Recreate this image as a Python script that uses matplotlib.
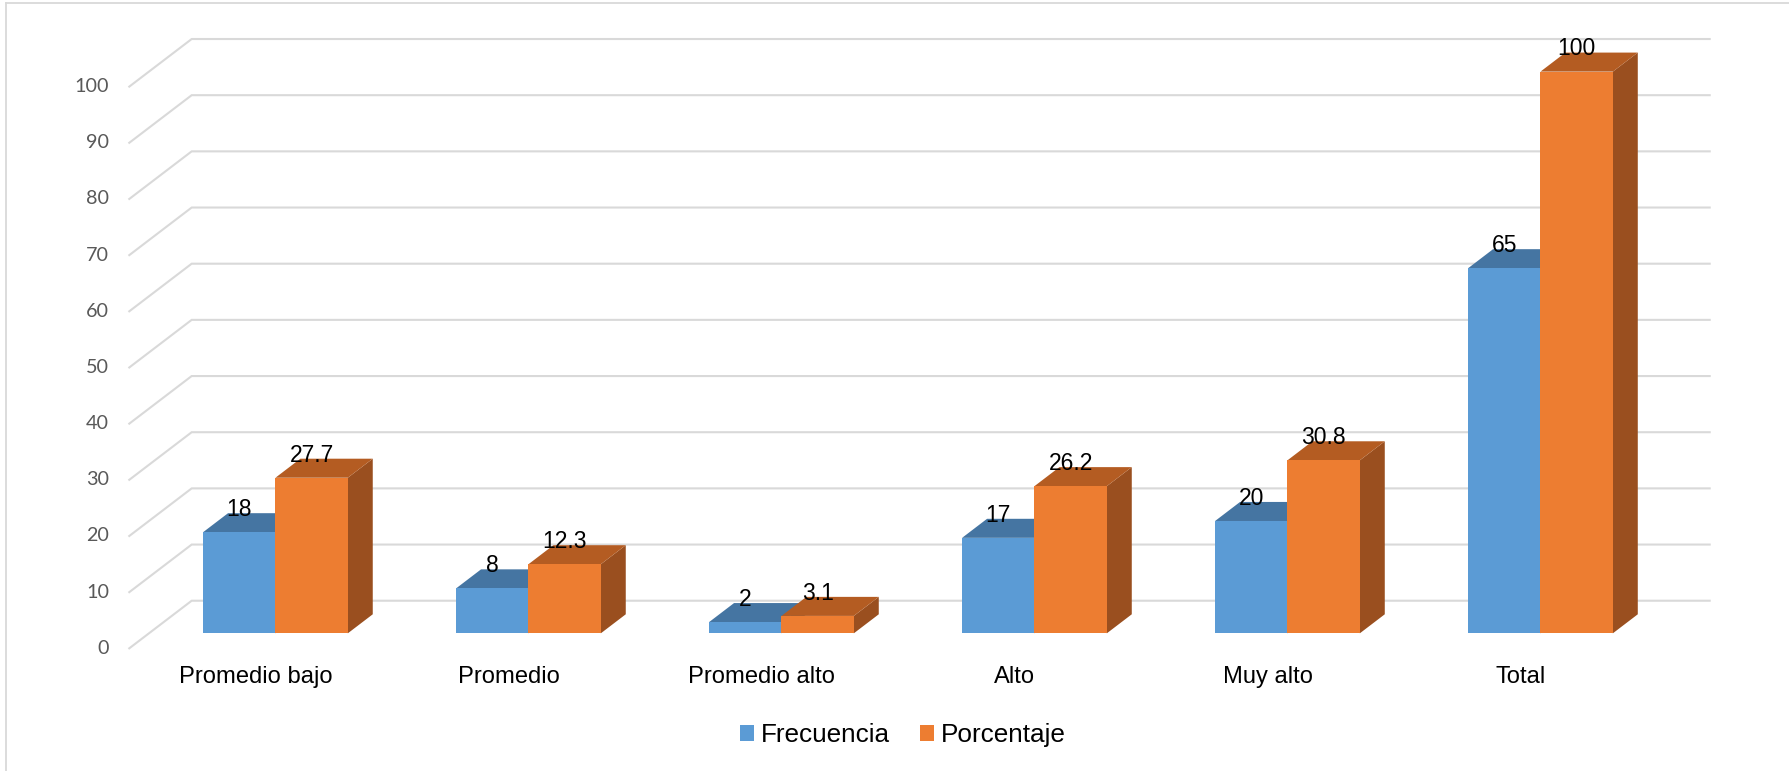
import matplotlib
matplotlib.use("Agg")
import matplotlib.pyplot as plt
from matplotlib.patches import Polygon, Patch
from matplotlib.lines import Line2D

# ---- data ----
categories = ["Promedio bajo", "Promedio", "Promedio alto", "Alto", "Muy alto", "Total"]
frecuencia = [18, 8, 2, 17, 20, 65]
porcentaje = [27.7, 12.3, 3.1, 26.2, 30.8, 100]
series_names = ["Frecuencia", "Porcentaje"]
tick_values = list(range(0, 101, 10))
tick_labels = [str(t) for t in tick_values]

# ---- style / geometry ----
W, H, DPI = 1789, 771, 100
front_col = ["#5B9BD5", "#ED7D31"]
top_col = ["#4575A2", "#B45C22"]
side_col = ["#3E6A94", "#9A4F1F"]
grid_col = "#D9D9D9"

# depth projection in data units for full floor depth
DX, DY = 0.2466, 8.474
bar_front_d = 0.315   # depth of bar front face (fraction of floor)
bar_depth = 0.40      # bar depth (fraction of floor)
bar_w = 0.286

fig = plt.figure(figsize=(W / DPI, H / DPI), dpi=DPI)
ax = fig.add_axes([0, 0, 1, 1])
ax.set_xlim(-1.011, 6.060)
ax.set_ylim(-21.84, 115.42)
ax.axis("off")

# border (top and left)
fig.add_artist(Line2D([0.0033, 1], [1 - 2.7 / H, 1 - 2.7 / H], color="#D9D9D9", lw=1.3, transform=fig.transFigure))
fig.add_artist(Line2D([6 / W, 6 / W], [0, 1 - 2.7 / H], color="#D9D9D9", lw=1.3, transform=fig.transFigure))

# gridlines: diagonal on left side wall + horizontal on back wall
x_left = -0.5
x_right = len(categories) - 0.5
for t, lab in zip(tick_values, tick_labels):
    ax.plot([x_left, x_left + DX, x_right + DX], [t, t + DY, t + DY],
            color=grid_col, lw=1.5, solid_joinstyle="miter", zorder=1)
    ax.text(x_left - 0.08, t, lab, ha="right", va="center",
            fontsize=14.2, color="#595959", family=["Lato", "DejaVu Sans"])

# bars
fx, fy = DX * bar_front_d, DY * bar_front_d
bx, by = DX * bar_depth, DY * bar_depth
for s, vals in enumerate([frecuencia, porcentaje]):
    for i, v in enumerate(vals):
        x0 = i + fx + (s - 1) * bar_w
        z = 2 + s * 3
        # side face
        ax.add_patch(Polygon([(x0 + bar_w, fy), (x0 + bar_w + bx, fy + by),
                              (x0 + bar_w + bx, fy + by + v), (x0 + bar_w, fy + v)],
                             closed=True, facecolor=side_col[s], edgecolor="none", zorder=z))
        # top face
        ax.add_patch(Polygon([(x0, fy + v), (x0 + bar_w, fy + v),
                              (x0 + bar_w + bx, fy + by + v), (x0 + bx, fy + by + v)],
                             closed=True, facecolor=top_col[s], edgecolor="none", zorder=z))
        # front face
        ax.bar(x0, v, width=bar_w, bottom=fy, align="edge", color=front_col[s],
               edgecolor="none", zorder=z + 1)
        # value label
        ax.text(x0 + bar_w / 2, fy + by + v - 0.5, f"{v:g}", ha="center", va="baseline",
                fontsize=16.5, color="black", family=["Liberation Sans", "DejaVu Sans"], zorder=10)

# category labels
for i, c in enumerate(categories):
    ax.text(i, -5.14, c, ha="center", va="center", fontsize=17.1, color="black",
            family=["Liberation Sans", "DejaVu Sans"])

# legend
handles = [Patch(facecolor=front_col[k], edgecolor="none", label=series_names[k]) for k in range(2)]
leg = fig.legend(handles=handles, loc="center", bbox_to_anchor=(903 / W, 1 - 735 / H),
                 ncol=2, frameon=False, prop={"family": ["Liberation Sans", "DejaVu Sans"], "size": 18.8},
                 handlelength=0.55, handleheight=0.55, handletextpad=0.25, columnspacing=1.15,
                 borderpad=0, borderaxespad=0)

fig.savefig("out.png", dpi=DPI, facecolor="white")
